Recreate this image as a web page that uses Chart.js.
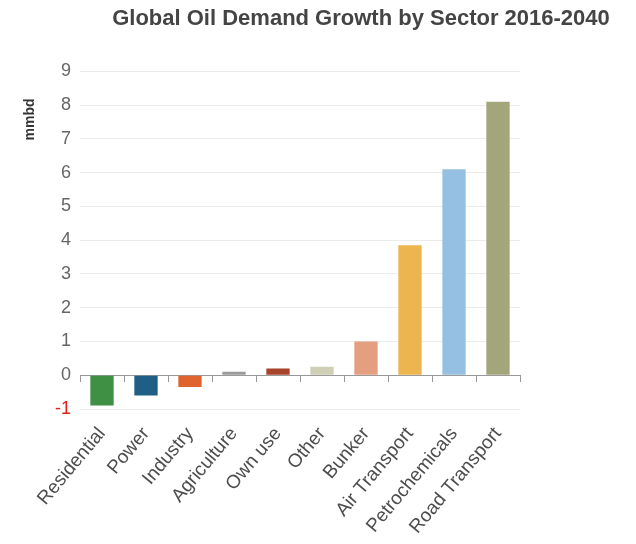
<!DOCTYPE html>
<html>
<head>
<meta charset="utf-8">
<script src="https://cdn.jsdelivr.net/npm/chart.js@4/dist/chart.umd.min.js"></script>
<style>
    html, body { margin: 0; padding: 0; background: #fff; overflow: hidden; }
    /* canvas is wider than the window so the title centre sits right of the middle, like the original */
    #wrap { width: 722px; height: 544px; }
</style>
</head>
<body>
<div id="wrap"><canvas id="myChart"></canvas></div>
<script>
// Global oil demand growth 2016-2040, mb/d
const sectors = ["Residential", "Power", "Industry", "Agriculture", "Own use",
    "Other", "Bunker", "Air Transport", "Petrochemicals", "Road Transport"]
const growth = [-0.9, -0.6, -0.35, 0.1, 0.2, 0.25, 1.0, 3.85, 6.1, 8.1]
const barColors = [
    "#3f8f44",
    "#1f5e85",
    "#df642e",
    "#9a9a9a",
    "#a8442b",
    "#cfcfb7",
    "#e49f80",
    "#edb54f",
    "#95c0e2",
    "#a3a67b"
]
const yMin = -1
const yMax = 9

const FONT = "'Liberation Sans', Arial, sans-serif"

// rotated unit label, placed near the top of the y axis
const unitLabel = {
    id: "unitLabel",
    afterDraw(chart) {
        const { ctx, chartArea } = chart
        ctx.save()
        ctx.translate(30, chartArea.top + 48)
        ctx.rotate(-Math.PI / 2)
        ctx.font = "bold 14px " + FONT
        ctx.fillStyle = "#333"
        ctx.textAlign = "center"
        ctx.textBaseline = "middle"
        ctx.fillText("mmbd", 0, 0)
        ctx.restore()
    }
}

new Chart("myChart", {
    type: "bar",
    data: {
        labels: sectors,
        datasets: [{
            data: growth,
            backgroundColor: barColors,
            categoryPercentage: 1,
            barPercentage: 0.53
        }]
    },
    options: {
        responsive: true,
        maintainAspectRatio: false,
        animation: false,
        layout: { padding: 0 },
        plugins: {
            legend: { display: false },
            tooltip: { enabled: false },
            title: {
                display: true,
                text: "Global Oil Demand Growth by Sector 2016-2040",
                color: "#444",
                font: { family: FONT, size: 22, weight: "bold" },
                padding: { top: 6, bottom: 39 }
            }
        },
        scales: {
            x: {
                grid: { display: false },
                border: { display: false },
                ticks: {
                    color: "#4d4d4d",
                    font: { family: FONT, size: 19 },
                    maxRotation: 50,
                    minRotation: 50,
                    padding: 6
                },
                afterFit: (scale) => { scale.height = 135 }
            },
            // second category axis sitting on zero: draws the base line and its tick marks
            xZero: {
                type: "category",
                position: { y: 0 },
                offset: true,
                grid: { drawOnChartArea: false, drawTicks: true, tickLength: 6, color: "#999", offset: true },
                border: { display: true, color: "#999", width: 1 },
                ticks: { display: false }
            },
            y: {
                min: yMin,
                max: yMax,
                border: { display: false },
                grid: { color: "#ebebeb", drawTicks: false },
                ticks: {
                    stepSize: 1,
                    padding: 9,
                    font: { family: FONT, size: 18 },
                    color: (c) => c.tick.value < 0 ? "#e0201b" : "#666"
                },
                afterFit: (scale) => { scale.width = 80 }
            },
            // empty right axis, only keeps the blank space right of the plot
            ySpace: {
                position: "right",
                grid: { display: false },
                border: { display: false },
                ticks: { display: false },
                afterFit: (scale) => { scale.width = 202 }
            }
        }
    },
    plugins: [unitLabel]
})
</script>
</body>
</html>
